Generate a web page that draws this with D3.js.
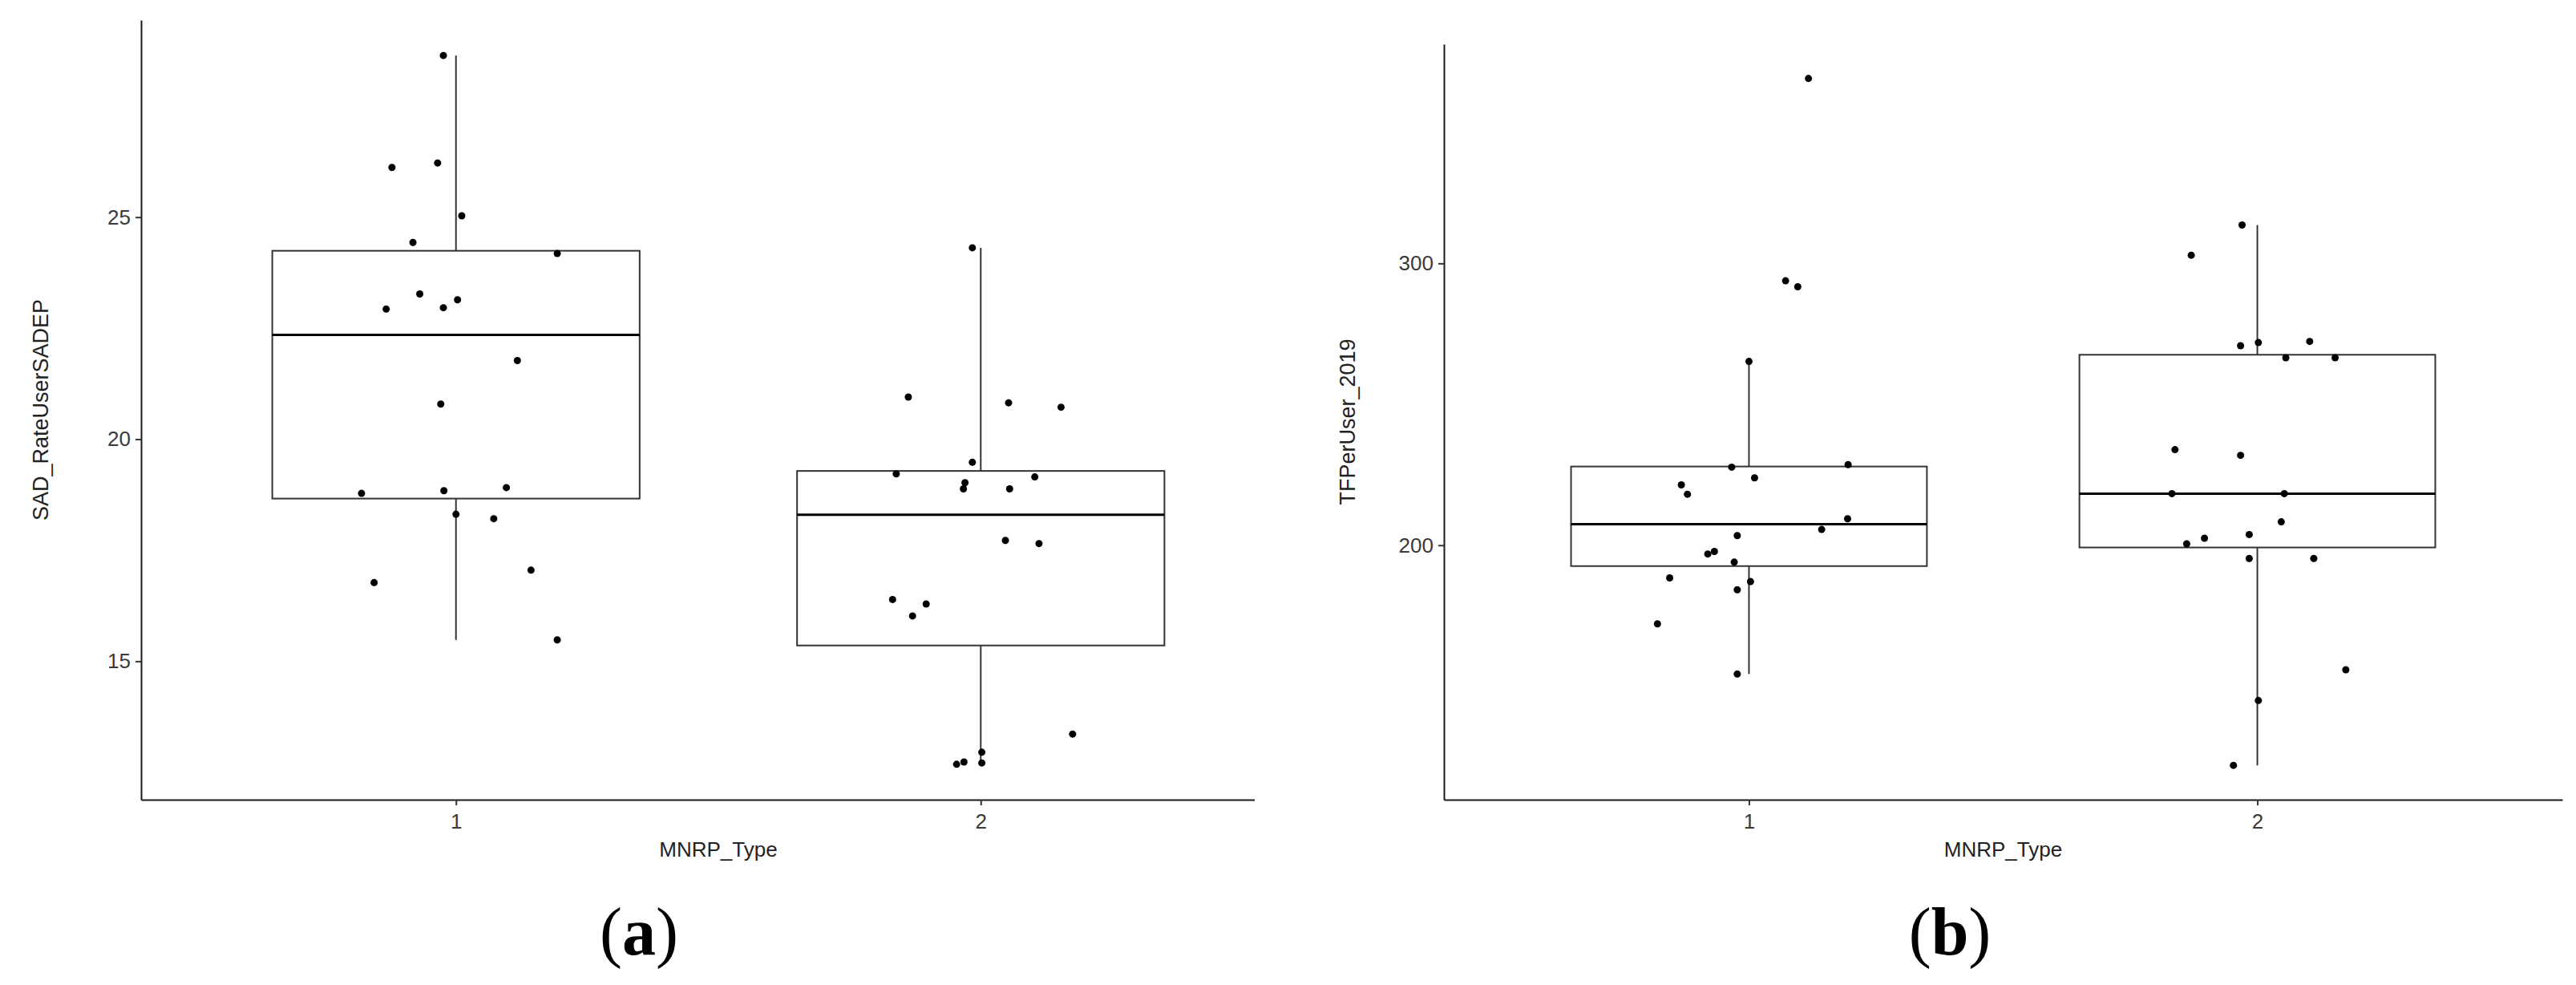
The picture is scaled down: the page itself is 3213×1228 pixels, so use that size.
<!DOCTYPE html>
<html>
<head>
<meta charset="utf-8">
<script src="https://cdn.jsdelivr.net/npm/d3@7"></script>
<style>
  html, body { margin: 0; padding: 0; background: #fff; }
  svg { display: block; font-family: 'Liberation Sans', Arial, sans-serif; }
</style>
</head>
<body>
<svg width="3213" height="1228"></svg>
<script>
const categories = ['1', '2'];

// ---- (a) SAD_RateUserSADEP por MNRP_Type
const sadType1 = [28.64, 26.12, 26.22, 25.03, 24.43, 24.18, 23.27, 22.93, 22.96, 23.14, 21.77, 20.79, 18.78, 18.84, 18.91, 18.31, 18.21, 16.77, 17.05, 15.48];
const sadJitter1 = [-0.024, -0.122, -0.035, 0.011, -0.082, 0.193, -0.069, -0.133, -0.024, 0.003, 0.117, -0.029, -0.180, -0.023, 0.096, 0.000, 0.072, -0.156, 0.143, 0.193];
const sadType2 = [24.31, 20.95, 20.82, 20.72, 19.48, 19.22, 19.15, 19.02, 18.88, 18.88, 17.72, 17.65, 16.39, 16.29, 16.02, 13.36, 12.95, 12.73, 12.68, 12.71];
const sadJitter2 = [-0.016, -0.138, 0.053, 0.153, -0.016, -0.161, 0.103, -0.030, -0.033, 0.055, 0.047, 0.111, -0.168, -0.104, -0.130, 0.175, 0.002, -0.032, -0.046, 0.002];
const sadTicks = [15, 20, 25];

// ---- (b) TFPerUser_2019 por MNRP_Type
const tfpType1 = [365.6, 293.8, 291.7, 265.2, 227.7, 228.6, 223.9, 221.4, 218.1, 209.4, 205.6, 203.4, 196.9, 197.8, 194.0, 188.4, 187.1, 184.2, 172.1, 154.3];
const tfpJitter1 = [0.117, 0.072, 0.096, 0.000, -0.034, 0.195, 0.011, -0.133, -0.121, 0.194, 0.143, -0.023, -0.081, -0.068, -0.029, -0.156, 0.003, -0.023, -0.180, -0.023];
const tfpType2 = [313.6, 302.9, 270.8, 271.9, 272.3, 266.5, 266.5, 233.9, 231.9, 218.3, 218.3, 208.3, 203.8, 202.5, 200.5, 195.3, 195.3, 155.8, 144.9, 121.9];
const tfpJitter2 = [-0.030, -0.130, -0.033, 0.002, 0.103, 0.056, 0.153, -0.162, -0.033, -0.168, 0.053, 0.047, -0.016, -0.104, -0.139, -0.016, 0.111, 0.174, 0.002, -0.047];
const tfpTicks = [200, 300];

const svg = d3.select('svg');
svg.append('rect').attr('width', 3213).attr('height', 1228).attr('fill', '#fff');

function boxStats(values) {
    const s = values.slice().sort(d3.ascending);
    const q1 = d3.quantileSorted(s, 0.25);
    const med = d3.quantileSorted(s, 0.5);
    const q3 = d3.quantileSorted(s, 0.75);
    const iqr = q3 - q1;
    return {
        q1, med, q3,
        lo: d3.min(s.filter(v => v >= q1 - 1.5 * iqr)),
        hi: d3.max(s.filter(v => v <= q3 + 1.5 * iqr))
    };
}

function drawPanel(p) {
    const all = p.groups.flatMap(g => g.values);
    const [mn, mx] = d3.extent(all);
    const pad = (mx - mn) * 0.05;

    const x = d3.scaleLinear().domain([0.4, 2.6]).range([p.left, p.right]);
    const y = d3.scaleLinear().domain([mn - pad, mx + pad]).range([p.bottom, p.top]);

    const clipId = 'clip-' + p.id;
    svg.append('clipPath').attr('id', clipId)
        .append('rect')
        .attr('x', 0).attr('y', 0)
        .attr('width', p.clipRight).attr('height', 1228);

    const g = svg.append('g').attr('clip-path', `url(#${clipId})`);

    // ---- Eixos
    const xAxis = d3.axisBottom(x)
        .tickValues([1, 2])
        .tickFormat((d, i) => categories[i])
        .tickSizeInner(7).tickSizeOuter(0).tickPadding(11);
    const gx = g.append('g')
        .attr('transform', `translate(0, ${p.bottom})`)
        .call(xAxis);

    const yAxis = d3.axisLeft(y)
        .tickValues(p.ticks)
        .tickSizeInner(7).tickSizeOuter(0).tickPadding(6);
    const gy = g.append('g')
        .attr('transform', `translate(${p.left}, 0)`)
        .call(yAxis);

    [gx, gy].forEach(ax => {
        ax.select('.domain').attr('stroke', '#1a1a1a').attr('stroke-width', 2);
        ax.selectAll('.tick line').attr('stroke', '#333').attr('stroke-width', 2);
        ax.selectAll('.tick text')
            .attr('fill', '#3a3a3a')
            .attr('font-size', '26px')
            .attr('font-family', "'Liberation Sans', Arial, sans-serif");
    });

    // ---- Boxplots
    const half = 0.35;
    p.groups.forEach((grp, i) => {
        const c = i + 1;
        const st = boxStats(grp.values);

        g.append('line')
            .attr('x1', x(c)).attr('x2', x(c))
            .attr('y1', y(st.q3)).attr('y2', y(st.hi))
            .attr('stroke', '#333').attr('stroke-width', 2);
        g.append('line')
            .attr('x1', x(c)).attr('x2', x(c))
            .attr('y1', y(st.q1)).attr('y2', y(st.lo))
            .attr('stroke', '#333').attr('stroke-width', 2);

        g.append('rect')
            .attr('x', x(c - half))
            .attr('y', y(st.q3))
            .attr('width', x(c + half) - x(c - half))
            .attr('height', y(st.q1) - y(st.q3))
            .attr('fill', '#fff')
            .attr('stroke', '#333')
            .attr('stroke-width', 2);

        g.append('line')
            .attr('x1', x(c - half)).attr('x2', x(c + half))
            .attr('y1', y(st.med)).attr('y2', y(st.med))
            .attr('stroke', '#000').attr('stroke-width', 3);
    });

    // ---- Pontos (jitter)
    p.groups.forEach((grp, i) => {
        const c = i + 1;
        g.append('g').selectAll('circle')
            .data(grp.values.map((v, k) => ({ v, j: grp.jitter[k] })))
            .join('circle')
            .attr('cx', d => x(c + d.j))
            .attr('cy', d => y(d.v))
            .attr('r', 4.5)
            .attr('fill', '#000');
    });

    // ---- Títulos dos eixos
    svg.append('text')
        .attr('x', (p.left + p.right) / 2)
        .attr('y', p.bottom + 71)
        .attr('text-anchor', 'middle')
        .attr('font-size', '26px')
        .attr('fill', '#222')
        .text('MNRP_Type');

    svg.append('text')
        .attr('transform', `translate(${p.yTitleX}, ${(p.top + p.bottom) / 2}) rotate(-90)`)
        .attr('text-anchor', 'middle')
        .attr('dy', '0.36em')
        .attr('font-size', '27px')
        .attr('fill', '#222')
        .text(p.yTitle);

    // ---- Legenda do painel: parênteses normais, letra em negrito
    const cap = svg.append('text')
        .attr('x', p.captionX)
        .attr('y', 1190)
        .attr('text-anchor', 'middle')
        .attr('font-family', "'Liberation Serif', 'Times New Roman', serif")
        .attr('font-size', '84px')
        .attr('fill', '#000');
    cap.append('tspan').text('(');
    cap.append('tspan').attr('font-weight', 700).text(p.caption);
    cap.append('tspan').text(')');
}

drawPanel({
    id: 'a',
    left: 176, right: 1616, clipRight: 1565, top: 25, bottom: 997,
    ticks: sadTicks,
    groups: [
        { values: sadType1, jitter: sadJitter1 },
        { values: sadType2, jitter: sadJitter2 }
    ],
    yTitle: 'SAD_RateUserSADEP', yTitleX: 50,
    caption: 'a', captionX: 797
});

drawPanel({
    id: 'b',
    left: 1801, right: 3196, clipRight: 3213, top: 55, bottom: 997,
    ticks: tfpTicks,
    groups: [
        { values: tfpType1, jitter: tfpJitter1 },
        { values: tfpType2, jitter: tfpJitter2 }
    ],
    yTitle: 'TFPerUser_2019', yTitleX: 1680,
    caption: 'b', captionX: 2432
});
</script>
</body>
</html>
